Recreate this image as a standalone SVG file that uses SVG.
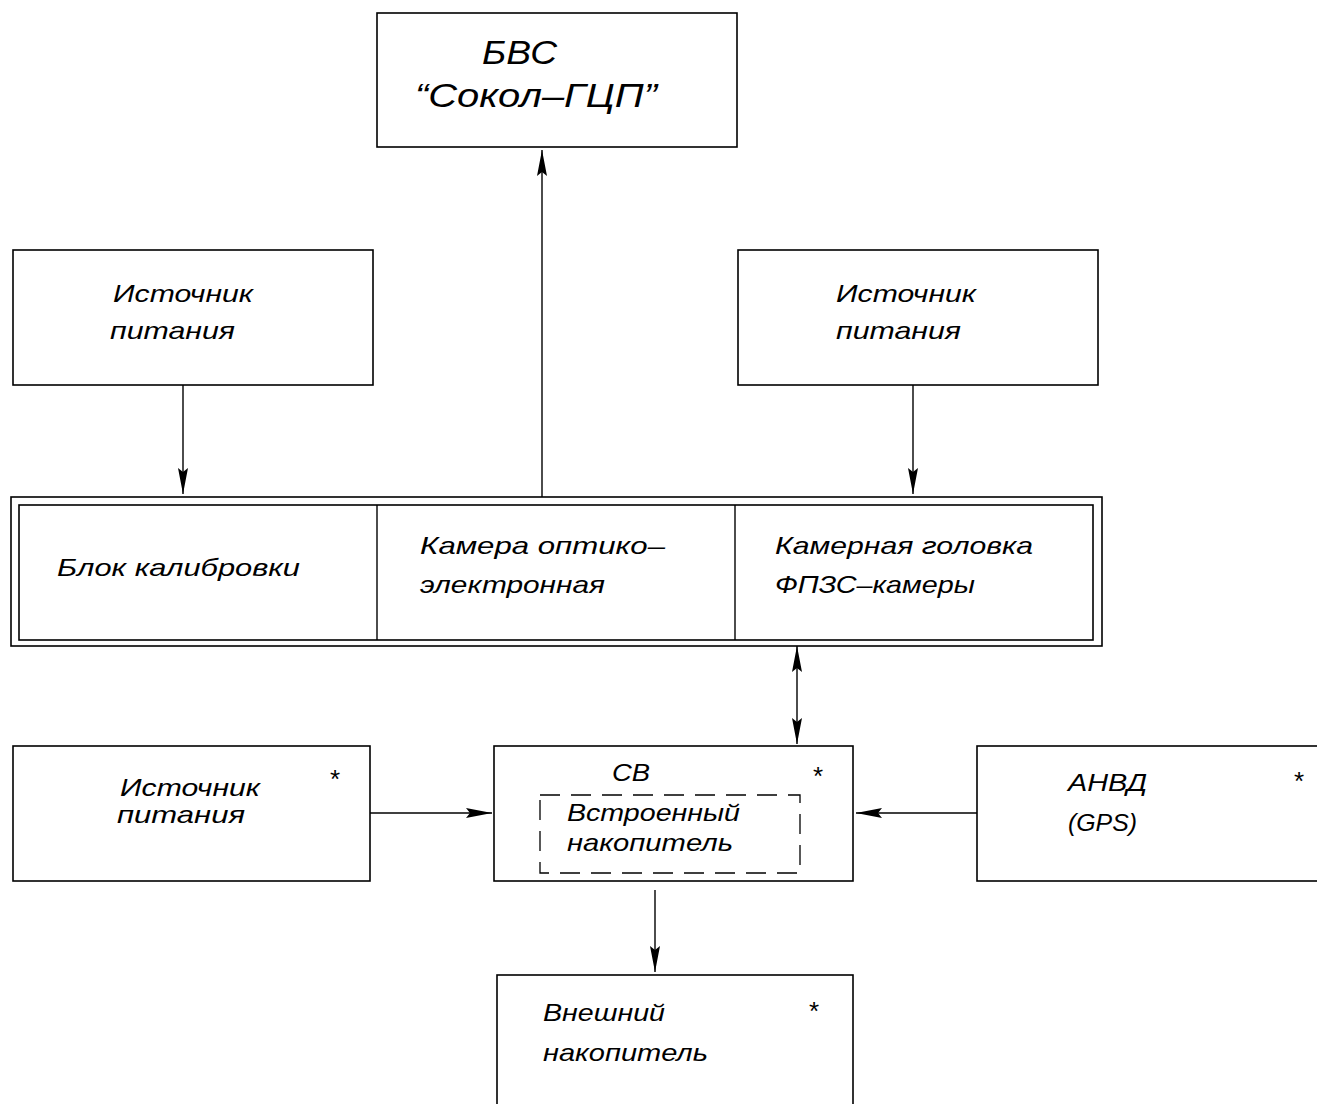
<svg xmlns="http://www.w3.org/2000/svg" width="1317" height="1104" viewBox="0 0 1317 1104">
<style>
.box{fill:#fff;stroke:#000;stroke-width:1.6}
.dash{fill:none;stroke:#000;stroke-width:1.3;stroke-dasharray:20,11}
.line{fill:none;stroke:#000;stroke-width:1.4}
.t{font-family:"Liberation Sans",Arial,sans-serif;font-style:italic;font-size:24px;fill:#000}
.big{font-size:33px}
.star{font-family:"Liberation Sans",Arial,sans-serif;font-size:26px;fill:#000}
</style>
<defs>
<marker id="ah" markerUnits="userSpaceOnUse" markerWidth="28" markerHeight="12" refX="26" refY="6" orient="auto-start-reverse">
<path d="M0,1 L26,6 L0,11 L4,6 z" fill="#000"/>
</marker>
</defs>
<rect width="1317" height="1104" fill="#fff"/>
<g id="connectors">
<line class="line" x1="542" y1="497" x2="542" y2="150" marker-end="url(#ah)"/>
<line class="line" x1="183" y1="385" x2="183" y2="494" marker-end="url(#ah)"/>
<line class="line" x1="913" y1="385" x2="913" y2="494" marker-end="url(#ah)"/>
<line class="line" x1="797" y1="646" x2="797" y2="744" marker-start="url(#ah)" marker-end="url(#ah)"/>
<line class="line" x1="370" y1="813" x2="492" y2="813" marker-end="url(#ah)"/>
<line class="line" x1="977" y1="813" x2="856" y2="813" marker-end="url(#ah)"/>
<line class="line" x1="655" y1="890" x2="655" y2="972" marker-end="url(#ah)"/>
</g>
<g id="node-bvs">
<rect class="box" x="377" y="13" width="360" height="134"/>
<text class="t big" x="482" y="64" textLength="75" lengthAdjust="spacingAndGlyphs">БВС</text>
<text class="t big" x="415" y="107" textLength="242" lengthAdjust="spacingAndGlyphs">“Сокол–ГЦП”</text>
</g>
<g id="node-power-left">
<rect class="box" x="13" y="250" width="360" height="135"/>
<text class="t" x="113" y="302" textLength="140" lengthAdjust="spacingAndGlyphs">Источник</text>
<text class="t" x="110" y="339" textLength="125" lengthAdjust="spacingAndGlyphs">питания</text>
</g>
<g id="node-power-right">
<rect class="box" x="738" y="250" width="360" height="135"/>
<text class="t" x="836" y="302" textLength="140" lengthAdjust="spacingAndGlyphs">Источник</text>
<text class="t" x="836" y="339" textLength="125" lengthAdjust="spacingAndGlyphs">питания</text>
</g>
<g id="node-camera-unit">
<rect class="box" x="11" y="497" width="1091" height="149"/>
<rect class="box" x="19" y="505" width="1074" height="135"/>
<line class="line" x1="377" y1="505" x2="377" y2="640"/>
<line class="line" x1="735" y1="505" x2="735" y2="640"/>
</g>
<g id="node-calib">
<text class="t" x="57" y="576" textLength="243" lengthAdjust="spacingAndGlyphs">Блок калибровки</text>
</g>
<g id="node-camera-oe">
<text class="t" x="420" y="554" textLength="245" lengthAdjust="spacingAndGlyphs">Камера оптико–</text>
<text class="t" x="420" y="593" textLength="185" lengthAdjust="spacingAndGlyphs">электронная</text>
</g>
<g id="node-camera-head">
<text class="t" x="775" y="554" textLength="258" lengthAdjust="spacingAndGlyphs">Камерная головка</text>
<text class="t" x="775" y="593" textLength="200" lengthAdjust="spacingAndGlyphs">ФПЗС–камеры</text>
</g>
<g id="node-power-bottom">
<rect class="box" x="13" y="746" width="357" height="135"/>
<text class="t" x="120" y="796" textLength="140" lengthAdjust="spacingAndGlyphs">Источник</text>
<text class="t" x="117" y="823" textLength="128" lengthAdjust="spacingAndGlyphs">питания</text>
<text class="star" x="330" y="788">*</text>
</g>
<g id="node-sv">
<rect class="box" x="494" y="746" width="359" height="135"/>
<text class="t" x="612" y="781" textLength="38" lengthAdjust="spacingAndGlyphs">СВ</text>
<text class="star" x="813" y="785">*</text>
<rect class="dash" x="540" y="795" width="260" height="78"/>
<text class="t" x="567" y="821" textLength="173" lengthAdjust="spacingAndGlyphs">Встроенный</text>
<text class="t" x="567" y="851" textLength="166" lengthAdjust="spacingAndGlyphs">накопитель</text>
</g>
<g id="node-anvd">
<rect class="box" x="977" y="746" width="345" height="135"/>
<text class="t" x="1068" y="791" textLength="79" lengthAdjust="spacingAndGlyphs">АНВД</text>
<text class="t" x="1068" y="831" textLength="69" lengthAdjust="spacingAndGlyphs">(GPS)</text>
<text class="star" x="1294" y="790">*</text>
</g>
<g id="node-external">
<rect class="box" x="497" y="975" width="356" height="135"/>
<text class="t" x="543" y="1021" textLength="122" lengthAdjust="spacingAndGlyphs">Внешний</text>
<text class="t" x="543" y="1061" textLength="165" lengthAdjust="spacingAndGlyphs">накопитель</text>
<text class="star" x="809" y="1020">*</text>
</g>
</svg>
